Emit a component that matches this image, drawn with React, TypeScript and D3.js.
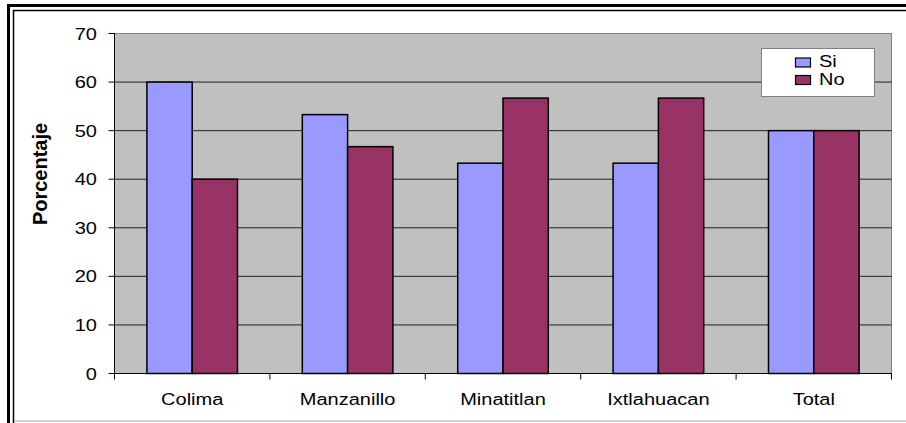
import React from "react";
import * as d3 from "d3";

const categories = ["Colima", "Manzanillo", "Minatitlan", "Ixtlahuacan", "Total"];
const seriesNames = ["Si", "No"];
const siValues = [60, 53.3, 43.3, 43.3, 50];
const noValues = [40, 46.7, 56.7, 56.7, 50];
const yTicks = [0, 10, 20, 30, 40, 50, 60, 70];
const colors = ["#9999FF", "#993366"];

export default function App() {
  const W = 906, H = 423;
  const left = 114.5, right = 891.5, top = 33.5, bottom = 373.5;
  const x = d3.scaleBand<string>().domain(categories).range([left, right]).paddingInner(0).paddingOuter(0);
  const y = d3.scaleLinear().domain([0, 70]).range([bottom, top]);
  const groupW = 90.6;
  const xs = d3.scaleBand<string>().domain(seriesNames).range([0, groupW]);
  const series = [siValues, noValues];
  const font = "Arial, 'Liberation Sans', sans-serif";
  const sx = 1.25;
  return (
    <svg width={W} height={H} style={{ position: "absolute", left: 0, top: 0 }}>
      <rect x={0} y={0} width={W} height={H} fill="#fff" />
      {/* outer frame */}
      <rect x={8.5} y={5.5} width={W + 20} height={H + 20} fill="none" stroke="#000" strokeWidth={3} />
      <rect x={13.5} y={10.5} width={W + 20} height={H + 20} fill="none" stroke="#000" strokeWidth={1.5} />
      <line x1={14} x2={W} y1={421} y2={421} stroke="#c0c0c0" strokeWidth={1.5} />
      {/* plot area */}
      <rect x={left} y={top} width={right - left} height={bottom - top} fill="#C0C0C0" stroke="#808080" strokeWidth={1} />
      {yTicks.filter(t => t > 0).map(t => (
        <line key={t} x1={left} x2={right} y1={y(t)} y2={y(t)} stroke={t === 70 ? "#808080" : "#222"} strokeWidth={1} />
      ))}
      {/* bars */}
      {categories.map((c, i) => {
        const gx = (x(c) as number) + (x.bandwidth() - groupW) / 2;
        return seriesNames.map((s, j) => (
          <rect key={c + s} x={gx + (xs(s) as number)} y={y(series[j][i])} width={xs.bandwidth()}
            height={y(0) - y(series[j][i])} fill={colors[j]} stroke="#000" strokeWidth={1.5} />
        ));
      })}
      {/* axes */}
      <line x1={left} x2={left} y1={top} y2={bottom} stroke="#000" strokeWidth={1} />
      <line x1={left} x2={right} y1={bottom} y2={bottom} stroke="#000" strokeWidth={1} />
      {yTicks.map(t => (
        <g key={t}>
          <line x1={left - 6} x2={left} y1={y(t)} y2={y(t)} stroke="#000" />
          <text transform={`translate(97,${y(t) + 6}) scale(${sx},1)`} textAnchor="end" fontFamily={font} fontSize={16}>{t}</text>
        </g>
      ))}
      {categories.map(c => (
        <line key={"t" + c} x1={x(c) as number} x2={x(c) as number} y1={bottom} y2={bottom + 6} stroke="#000" />
      ))}
      <line x1={right} x2={right} y1={bottom} y2={bottom + 6} stroke="#000" />
      {categories.map(c => (
        <text key={"l" + c} transform={`translate(${(x(c) as number) + x.bandwidth() / 2},405) scale(${sx},1)`} textAnchor="middle" fontFamily={font} fontSize={16}>{c}</text>
      ))}
      <text transform={`translate(46.5,174) scale(1.05,1) rotate(-90)`} textAnchor="middle" fontFamily={font} fontSize={20} fontWeight="bold">Porcentaje</text>
      {/* legend */}
      <rect x={761.5} y={48.5} width={113} height={48} fill="#fff" stroke="#808080" strokeWidth={1} />
      {seriesNames.map((s, j) => (
        <g key={"lg" + s}>
          <rect x={795.5} y={58 + j * 17.5} width={15} height={9} fill={colors[j]} stroke="#000" strokeWidth={1.2} />
          <text transform={`translate(819,${67.3 + j * 17.7}) scale(${sx},1)`} fontFamily={font} fontSize={16}>{s}</text>
        </g>
      ))}
    </svg>
  );
}
